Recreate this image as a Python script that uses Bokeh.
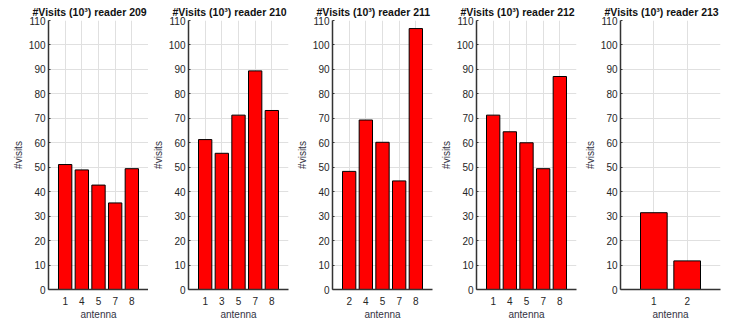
from bokeh.plotting import figure
from bokeh.layouts import row
from bokeh.models import FixedTicker, Range1d, ColumnDataSource
from bokeh.embed import file_html
from bokeh.resources import INLINE

readers = ["209", "210", "211", "212", "213"]
antenna_209 = ["1", "4", "5", "7", "8"]
visits_209 = [51.1, 48.9, 42.7, 35.4, 49.4]
antenna_210 = ["1", "3", "5", "7", "8"]
visits_210 = [61.3, 55.7, 71.3, 89.4, 73.2]
antenna_211 = ["2", "4", "5", "7", "8"]
visits_211 = [48.3, 69.3, 60.2, 44.4, 106.7]
antenna_212 = ["1", "4", "5", "7", "8"]
visits_212 = [71.3, 64.5, 60.0, 49.4, 87.1]
antenna_213 = ["1", "2"]
visits_213 = [31.4, 11.7]
y_ticks = list(range(0, 111, 10))

panels = [
    (readers[0], antenna_209, visits_209),
    (readers[1], antenna_210, visits_210),
    (readers[2], antenna_211, visits_211),
    (readers[3], antenna_212, visits_212),
    (readers[4], antenna_213, visits_213),
]

# layout: (left border, right border) per panel
borders = [(48, 0), (40, 4), (40, 4), (40, 4), (40, 25)]

FONT = "Liberation Sans"
DARK = "#262626"
out = []
for (reader, ants, vals), (bl, br) in zip(panels, borders):
    n = len(ants)
    pos = list(range(1, n + 1))
    src = ColumnDataSource(dict(x=pos, top=vals))
    p = figure(frame_width=100, frame_height=269,
               x_range=Range1d(0, n + 1), y_range=Range1d(0, 110),
               output_backend="svg", toolbar_location=None,
               min_border_left=bl, min_border_right=br,
               min_border_top=20, min_border_bottom=30,
               title="#Visits (10³) reader " + reader)
    p.outline_line_color = None
    p.background_fill_color = "white"
    p.border_fill_color = "white"
    p.title.text_font = FONT
    p.title.text_font_size = "10.5px"
    p.title.text_font_style = "bold"
    p.title.text_color = "#111111"
    p.title.align = "left"
    p.title.offset = -16
    p.title.standoff = 6

    p.vbar(x="x", top="top", width=0.8, bottom=0, source=src,
           fill_color="#ff0000", line_color="black", line_width=1)

    p.xaxis.ticker = FixedTicker(ticks=pos)
    p.xaxis.major_label_overrides = {i: a for i, a in zip(pos, ants)}
    p.yaxis.ticker = FixedTicker(ticks=y_ticks)
    p.xgrid.ticker = FixedTicker(ticks=pos)
    p.ygrid.ticker = FixedTicker(ticks=y_ticks)
    p.grid.grid_line_color = "#e0e0e0"
    p.grid.grid_line_width = 1

    p.xaxis.axis_label = "antenna"
    p.yaxis.axis_label = "#visits"
    for ax in (p.xaxis, p.yaxis):
        ax.axis_line_color = "#333333"
        ax.axis_line_width = 1.5
        ax.major_tick_line_color = "#333333"
        ax.major_tick_in = 2
        ax.major_tick_out = 0
        ax.minor_tick_line_color = None
        ax.major_label_text_font = FONT
        ax.major_label_text_font_size = "10px"
        ax.major_label_text_color = DARK
        ax.axis_label_text_font = FONT
        ax.axis_label_text_font_size = "10px"
        ax.axis_label_text_font_style = "normal"
        ax.axis_label_text_color = "#333344"
    p.xaxis.major_tick_line_color = None
    p.xaxis.major_label_standoff = 7
    p.xaxis.axis_label_standoff = 1
    p.yaxis.major_label_standoff = 3
    p.yaxis.axis_label_standoff = 2
    out.append(p)

layout = row(*out, spacing=0)
open("out.html", "w").write(file_html(layout, INLINE))
